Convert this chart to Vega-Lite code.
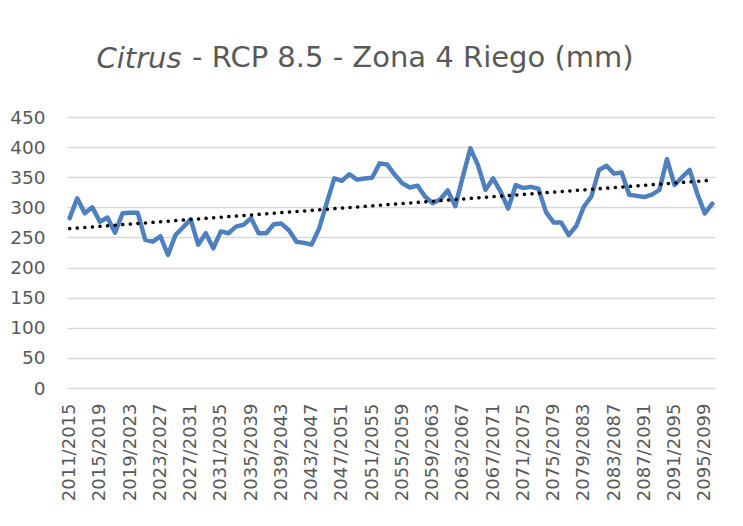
{
  "$schema": "https://vega.github.io/schema/vega-lite/v6.json",
  "width": 648,
  "height": 271,
  "autosize": {"type": "none"},
  "padding": {"left": 67, "top": 117, "right": 28, "bottom": 138},
  "background": "white",
  "config": {
    "view": {"stroke": null},
    "font": "DejaVu Sans"
  },
  "title": {
    "text": "- RCP 8.5 - Zona 4 Riego (mm)",
    "anchor": "start",
    "frame": "group",
    "dx": 125,
    "offset": -52,
    "baseline": "alphabetic",
    "fontSize": 29,
    "fontWeight": "normal",
    "font": "DejaVu Sans",
    "color": "#595959"
  },
  "data": {
    "values": [
      {"idx": 0, "period": "2011/2015", "riego": 282},
      {"idx": 1, "period": "2012/2016", "riego": 315},
      {"idx": 2, "period": "2013/2017", "riego": 290},
      {"idx": 3, "period": "2014/2018", "riego": 300},
      {"idx": 4, "period": "2015/2019", "riego": 276},
      {"idx": 5, "period": "2016/2020", "riego": 283},
      {"idx": 6, "period": "2017/2021", "riego": 258},
      {"idx": 7, "period": "2018/2022", "riego": 290},
      {"idx": 8, "period": "2019/2023", "riego": 291},
      {"idx": 9, "period": "2020/2024", "riego": 291},
      {"idx": 10, "period": "2021/2025", "riego": 246},
      {"idx": 11, "period": "2022/2026", "riego": 243},
      {"idx": 12, "period": "2023/2027", "riego": 252},
      {"idx": 13, "period": "2024/2028", "riego": 221},
      {"idx": 14, "period": "2025/2029", "riego": 254},
      {"idx": 15, "period": "2026/2030", "riego": 267},
      {"idx": 16, "period": "2027/2031", "riego": 280},
      {"idx": 17, "period": "2028/2032", "riego": 238},
      {"idx": 18, "period": "2029/2033", "riego": 257},
      {"idx": 19, "period": "2030/2034", "riego": 232},
      {"idx": 20, "period": "2031/2035", "riego": 260},
      {"idx": 21, "period": "2032/2036", "riego": 257},
      {"idx": 22, "period": "2033/2037", "riego": 268},
      {"idx": 23, "period": "2034/2038", "riego": 271},
      {"idx": 24, "period": "2035/2039", "riego": 282},
      {"idx": 25, "period": "2036/2040", "riego": 257},
      {"idx": 26, "period": "2037/2041", "riego": 257},
      {"idx": 27, "period": "2038/2042", "riego": 272},
      {"idx": 28, "period": "2039/2043", "riego": 273},
      {"idx": 29, "period": "2040/2044", "riego": 262},
      {"idx": 30, "period": "2041/2045", "riego": 243},
      {"idx": 31, "period": "2042/2046", "riego": 241},
      {"idx": 32, "period": "2043/2047", "riego": 238},
      {"idx": 33, "period": "2044/2048", "riego": 265},
      {"idx": 34, "period": "2045/2049", "riego": 307},
      {"idx": 35, "period": "2046/2050", "riego": 348},
      {"idx": 36, "period": "2047/2051", "riego": 344},
      {"idx": 37, "period": "2048/2052", "riego": 355},
      {"idx": 38, "period": "2049/2053", "riego": 346},
      {"idx": 39, "period": "2050/2054", "riego": 348},
      {"idx": 40, "period": "2051/2055", "riego": 349},
      {"idx": 41, "period": "2052/2056", "riego": 373},
      {"idx": 42, "period": "2053/2057", "riego": 371},
      {"idx": 43, "period": "2054/2058", "riego": 354},
      {"idx": 44, "period": "2055/2059", "riego": 340},
      {"idx": 45, "period": "2056/2060", "riego": 333},
      {"idx": 46, "period": "2057/2061", "riego": 336},
      {"idx": 47, "period": "2058/2062", "riego": 318},
      {"idx": 48, "period": "2059/2063", "riego": 307},
      {"idx": 49, "period": "2060/2064", "riego": 313},
      {"idx": 50, "period": "2061/2065", "riego": 328},
      {"idx": 51, "period": "2062/2066", "riego": 302},
      {"idx": 52, "period": "2063/2067", "riego": 351},
      {"idx": 53, "period": "2064/2068", "riego": 398},
      {"idx": 54, "period": "2065/2069", "riego": 370},
      {"idx": 55, "period": "2066/2070", "riego": 329},
      {"idx": 56, "period": "2067/2071", "riego": 348},
      {"idx": 57, "period": "2068/2072", "riego": 326},
      {"idx": 58, "period": "2069/2073", "riego": 298},
      {"idx": 59, "period": "2070/2074", "riego": 337},
      {"idx": 60, "period": "2071/2075", "riego": 332},
      {"idx": 61, "period": "2072/2076", "riego": 334},
      {"idx": 62, "period": "2073/2077", "riego": 331},
      {"idx": 63, "period": "2074/2078", "riego": 292},
      {"idx": 64, "period": "2075/2079", "riego": 275},
      {"idx": 65, "period": "2076/2080", "riego": 275},
      {"idx": 66, "period": "2077/2081", "riego": 254},
      {"idx": 67, "period": "2078/2082", "riego": 269},
      {"idx": 68, "period": "2079/2083", "riego": 301},
      {"idx": 69, "period": "2080/2084", "riego": 318},
      {"idx": 70, "period": "2081/2085", "riego": 362},
      {"idx": 71, "period": "2082/2086", "riego": 369},
      {"idx": 72, "period": "2083/2087", "riego": 356},
      {"idx": 73, "period": "2084/2088", "riego": 358},
      {"idx": 74, "period": "2085/2089", "riego": 321},
      {"idx": 75, "period": "2086/2090", "riego": 319},
      {"idx": 76, "period": "2087/2091", "riego": 317},
      {"idx": 77, "period": "2088/2092", "riego": 321},
      {"idx": 78, "period": "2089/2093", "riego": 329},
      {"idx": 79, "period": "2090/2094", "riego": 380},
      {"idx": 80, "period": "2091/2095", "riego": 337},
      {"idx": 81, "period": "2092/2096", "riego": 350},
      {"idx": 82, "period": "2093/2097", "riego": 362},
      {"idx": 83, "period": "2094/2098", "riego": 323},
      {"idx": 84, "period": "2095/2099", "riego": 290},
      {"idx": 85, "period": "2096/2100", "riego": 306}
    ]
  },
  "encoding": {
    "x": {
      "field": "idx",
      "type": "quantitative",
      "scale": {"domain": [-0.35, 85.35], "nice": false, "zero": false},
      "axis": {
        "title": null,
        "values": [0, 4, 8, 12, 16, 20, 24, 28, 32, 36, 40, 44, 48, 52, 56, 60, 64, 68, 72, 76, 80, 84],
        "labelExpr": "toString(2011 + datum.value) + '/' + toString(2015 + datum.value)",
        "labelAngle": -90,
        "labelAlign": "right",
        "labelBaseline": "middle",
        "labelFontSize": 18,
        "labelColor": "#595959",
        "labelPadding": 15,
        "labelOverlap": false,
        "labelFlush": false,
        "grid": false,
        "domain": false,
        "ticks": false
      }
    },
    "y": {
      "field": "riego",
      "type": "quantitative",
      "scale": {"domain": [0, 450], "nice": false},
      "axis": {
        "values": [0, 50, 100, 150, 200, 250, 300, 350, 400, 450],
        "title": "Citrus",
        "titleAngle": 0,
        "titleX": 29,
        "titleY": -50,
        "titleAlign": "left",
        "titleBaseline": "alphabetic",
        "titleFontSize": 29,
        "titleFontStyle": "italic",
        "titleFontWeight": "normal",
        "titleColor": "#595959",
        "titleFont": "DejaVu Sans",
        "labelFontSize": 18.5,
        "labelColor": "#595959",
        "labelPadding": 22,
        "domain": false,
        "ticks": false,
        "grid": true,
        "gridColor": "#d9d9d9",
        "gridWidth": 1.3
      }
    }
  },
  "layer": [
    {
      "mark": {"type": "line", "color": "#4e7fbf", "strokeWidth": 4.5, "strokeJoin": "round", "strokeCap": "round"}
    },
    {
      "transform": [{"regression": "riego", "on": "idx", "method": "linear", "extent": [0, 85]}],
      "mark": {"type": "line", "color": "#000000", "strokeWidth": 3.5, "strokeDash": [0.1, 7.5], "strokeCap": "round"}
    }
  ]
}
